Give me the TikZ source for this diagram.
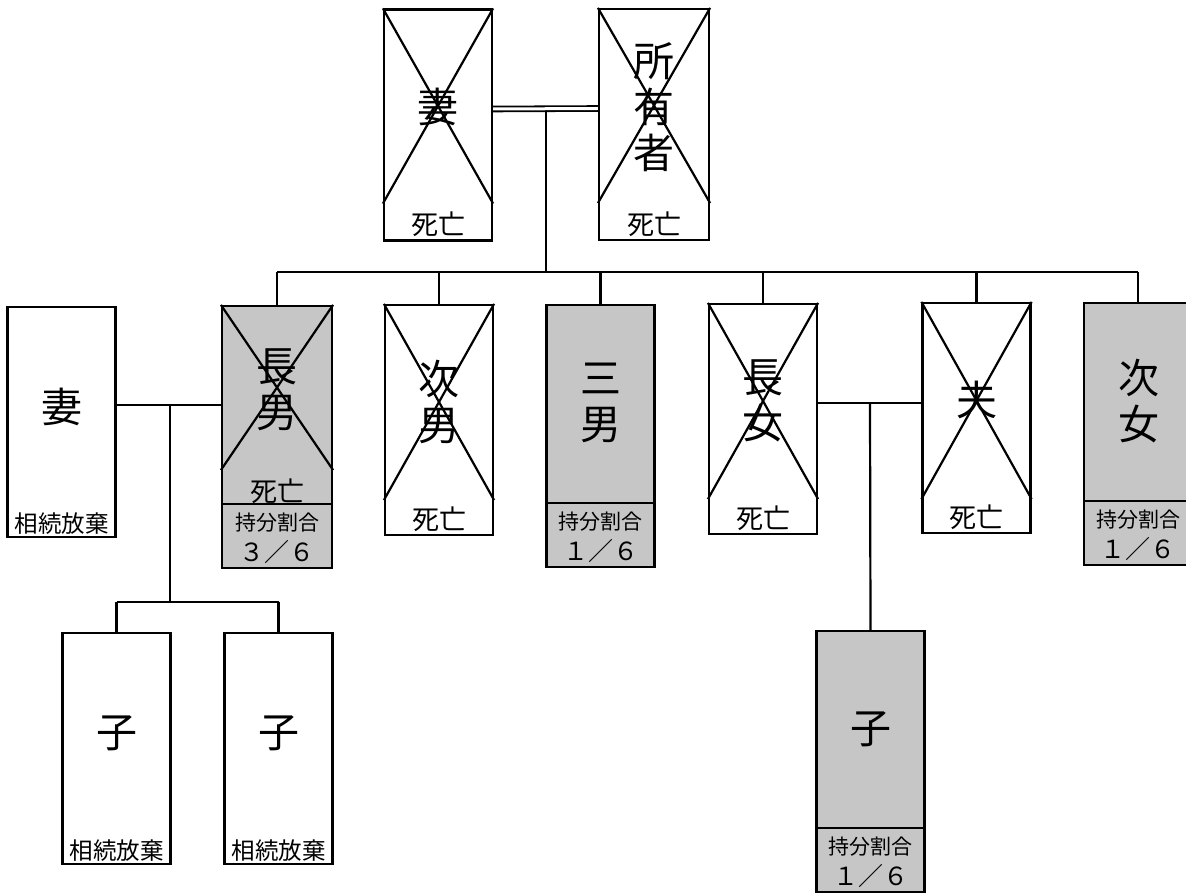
\documentclass[tikz,border=0pt]{standalone}
\usepackage{fontspec}
\setmainfont{Noto Sans CJK JP}
\usetikzlibrary{calc}
\definecolor{shade}{RGB}{198,198,198}
\begin{document}
\begin{tikzpicture}[x=1pt,y=-1pt,
  box/.style={draw, line width=2.2pt, rectangle, minimum width=108pt, inner sep=0pt},
  plain/.style={box, minimum height=231pt},
  heir/.style={box, fill=shade, minimum height=262pt},
  link/.style={line width=2.2pt},
  cross/.style={line width=2.2pt},
  big/.style={font=\fontsize{41}{46}\selectfont, align=center, inner sep=0pt},
  small/.style={font=\fontsize{27}{30}\selectfont, inner sep=0pt},
  renounce/.style={font=\fontsize{23.5}{26}\selectfont, inner sep=0pt},
  quota/.style={font=\fontsize{21}{24}\selectfont, inner sep=0pt},
  frac/.style={font=\fontsize{25}{28}\selectfont, inner sep=0pt}]
\clip (0,0) rectangle (1186,893);
\useasboundingbox (0,0) rectangle (1186,893);

% ---- boxes ----
\node[plain] (wifeA) at (438,125) {};
\node[plain, minimum width=110pt] (owner) at (654,124.5) {};
\node[plain, minimum height=230pt] (wifeB) at (61.5,422) {};
\node[heir, minimum width=110pt] (son1) at (277,437) {};
\node[plain, minimum height=230pt] (son2) at (439,420) {};
\node[heir] (son3) at (600.5,436) {};
\node[plain, minimum height=230pt] (dau1) at (763,419) {};
\node[plain, minimum height=230pt] (husb) at (976.5,418) {};
\node[heir] (dau2) at (1138,434) {};
\node[plain] (kid1) at (116.5,748.5) {};
\node[plain] (kid2) at (278.5,748.5) {};
\node[heir, minimum height=261pt] (kid3) at (870.5,761.5) {};

% ---- crosses ----
\foreach \b/\d in {wifeA/38, owner/38, son2/36, dau1/36, husb/35}{
  \draw[cross] (\b.north west) -- ($(\b.south east)+(0,-\d)$);
  \draw[cross] (\b.north east) -- ($(\b.south west)+(0,-\d)$);
}
\draw[cross] (son1.north west) -- ($(son1.south east)+(0,-99)$);
\draw[cross] (son1.north east) -- ($(son1.south west)+(0,-99)$);

% ---- dividers ----
\foreach \b in {son1, son3, dau2, kid3}{
  \draw[link] ($(\b.south west)+(0,-65)$) -- ($(\b.south east)+(0,-65)$);
}

% ---- connectors ----
\draw[double, double distance=3pt, line width=1.8pt]
  ([yshift=16pt]wifeA.east) -- ([yshift=16pt]owner.west);
\coordinate (coupleA) at (546,111);
\coordinate (busA) at (546,272);
\draw[link] (coupleA) -- (busA);
\draw[link] (son1.north |- busA) -- (dau2.north |- busA);
\foreach \b in {son1, son2, son3, dau1, husb, dau2}{
  \draw[link] (\b.north) -- (\b.north |- busA);
}
\coordinate (coupleB) at (170,405);
\coordinate (busB) at (170,602);
\draw[link] (wifeB.east |- coupleB) -- (son1.west |- coupleB);
\draw[link] (coupleB) -- (busB);
\draw[link] (kid1.north |- busB) -- (kid2.north |- busB);
\draw[link] (kid1.north) -- (kid1.north |- busB);
\draw[link] (kid2.north) -- (kid2.north |- busB);
\coordinate (coupleC) at (870,403);
\draw[link] (dau1.east |- coupleC) -- (husb.west |- coupleC);
\draw[link] (coupleC) -- (kid3.north);

% ---- main labels ----
\node[big] (tWifeA) at (438,107) {妻};
\node[big] (tOwner) at (654,107) {所\\有\\者};
\node[big] (tWifeB) at (61.5,407) {妻};
\node[big] (tSon1) at (277,390) {長\\男};
\node[big] (tSon2) at (439,402) {次\\男};
\node[big] (tSon3) at (600.5,403) {三\\男};
\node[big] (tDau1) at (763,401) {長\\女};
\node[big] (tHusb) at (976.5,400) {夫};
\node[big] (tDau2) at (1139,401) {次\\女};
\node[big] (tKid1) at (116.5,733) {子};
\node[big] (tKid2) at (278.5,733) {子};
\node[big] (tKid3) at (870.5,729) {子};

% ---- status labels ----
\node[small] (dWifeA) at ($(wifeA.south)+(0,-17)$) {死亡};
\node[small] (dOwner) at ($(owner.south)+(0,-17)$) {死亡};
\node[small] (dSon2) at ($(son2.south)+(0,-17)$) {死亡};
\node[small] (dDau1) at ($(dau1.south)+(0,-17)$) {死亡};
\node[small] (dHusb) at ($(husb.south)+(0,-17)$) {死亡};
\node[small] (dSon1) at ($(son1.south)+(0,-78)$) {死亡};
\node[renounce] (rWifeB) at ($(wifeB.south)+(0,-15)$) {相続放棄};
\node[renounce] (rKid1) at ($(kid1.south)+(0,-15)$) {相続放棄};
\node[renounce] (rKid2) at ($(kid2.south)+(0,-15)$) {相続放棄};

% ---- shares ----
\foreach \b/\f in {son1/３／６, son3/１／６, dau2/１／６, kid3/１／６}{
  \node[quota] (q\b) at ($(\b.south)+(0,-47)$) {持分割合};
  \node[frac] (f\b) at ($(\b.south)+(0,-17)$) {\f};
}
\end{tikzpicture}
\end{document}
